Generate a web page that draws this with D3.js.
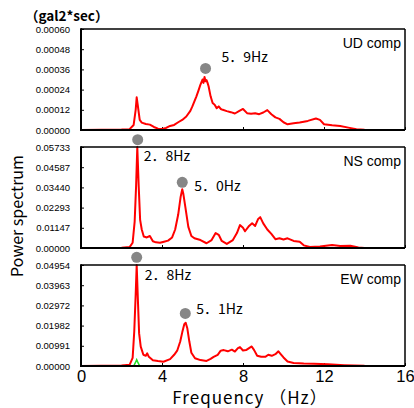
<!DOCTYPE html>
<html>
<head>
<meta charset="utf-8">
<script src="https://cdn.jsdelivr.net/npm/d3@7"></script>
<style>
  body { margin: 0; background: #fff; }
  svg { display: block; }
</style>
</head>
<body>
<div id="chart"></div>
<script>
// データ
var xTicks = [0, 4, 8, 12, 16];
var components = ["UD comp", "NS comp", "EW comp"];
var yMax = [0.00060, 0.05733, 0.04954];
var yTicksUD = [0, 0.00012, 0.00024, 0.00036, 0.00048, 0.00060];
var yTicksNS = [0, 0.01147, 0.02293, 0.03440, 0.04587, 0.05733];
var yTicksEW = [0, 0.00991, 0.01982, 0.02972, 0.03963, 0.04954];

var freqUD = [0, 1.0, 2.0, 2.4, 2.6, 2.7, 2.75, 2.8, 2.9, 3.0, 3.2, 3.4, 3.6, 3.8, 4.0, 4.2, 4.4, 4.6, 4.8, 5.0,
  5.2, 5.4, 5.5, 5.6, 5.7, 5.8, 5.9, 6.0, 6.05, 6.1, 6.15, 6.2, 6.25, 6.3, 6.4, 6.5, 6.6, 6.7, 6.8, 6.9,
  7.0, 7.2, 7.4, 7.6, 7.8, 8.0, 8.2, 8.4, 8.6, 8.8, 9.0, 9.2, 9.4, 9.6, 9.8, 10.0, 10.2, 10.5, 10.8,
  11.2, 11.6, 11.8, 12.0, 12.4, 12.8, 13.2, 13.6, 14.0, 16.0];
var powerUD = [0, 0.000002, 0.000003, 0.000005, 0.00003, 0.00012, 0.000194, 0.00015, 0.00006, 0.000044,
  0.000036, 0.000032, 0.000018, 0.000008, 0.000006, 0.000012, 0.000024, 0.00003, 0.000046, 0.00006,
  0.00008, 0.000114, 0.00014, 0.00017, 0.0002, 0.000234, 0.00027, 0.0003, 0.00028, 0.000315, 0.00029,
  0.000296, 0.00028, 0.00026, 0.0002, 0.00016, 0.00015, 0.00013, 0.00014, 0.000125,
  0.00012, 0.000112, 0.000106, 0.000098, 0.000112, 0.000125, 0.0001, 0.000096, 0.0001, 0.000094,
  0.000104, 0.000118, 0.000094, 0.000075, 0.000066, 0.000046, 0.000034, 0.00004, 0.000044,
  0.000054, 0.000068, 0.00006, 0.000034, 0.000028, 0.000024, 0.000014, 0.000004, 0.000001, 0];

var freqNS = [0, 2.0, 2.4, 2.55, 2.65, 2.72, 2.78, 2.85, 2.92, 3.0, 3.1, 3.25, 3.4, 3.55, 3.7, 3.9, 4.1,
  4.3, 4.5, 4.65, 4.8, 4.92, 5.0, 5.05, 5.15, 5.3, 5.45, 5.6, 5.9, 6.2, 6.45, 6.65, 6.8, 6.95, 7.2,
  7.5, 7.7, 7.85, 8.0, 8.1, 8.3, 8.45, 8.6, 8.75, 8.85, 9.0, 9.2, 9.4, 9.6, 9.8, 10.0, 10.2, 10.5,
  10.8, 11.0, 11.3, 11.8, 12.4, 12.8, 13.3, 13.7, 14.0, 16.0];
var powerNS = [0, 0.0002, 0.0005, 0.003, 0.015, 0.035, 0.0573, 0.035, 0.016, 0.0105, 0.0065, 0.006,
  0.0068, 0.0038, 0.0032, 0.003, 0.0036, 0.0042, 0.006, 0.0105, 0.019, 0.029, 0.0333, 0.031, 0.0235,
  0.012, 0.0068, 0.0055, 0.0045, 0.0027, 0.0045, 0.0085, 0.0075, 0.004, 0.0023, 0.0045, 0.0085, 0.013,
  0.0115, 0.0095, 0.0125, 0.014, 0.0125, 0.0165, 0.0175, 0.014, 0.0105, 0.008, 0.005, 0.0055, 0.0048,
  0.0055, 0.004, 0.0035, 0.0015, 0.0006, 0.0008, 0.0017, 0.0012, 0.0013, 0.0003, 0, 0];

var freqEW = [0, 2.0, 2.4, 2.55, 2.63, 2.7, 2.75, 2.8, 2.87, 2.95, 3.08, 3.2, 3.27, 3.35, 3.55, 3.8,
  4.07, 4.4, 4.6, 4.75, 4.9, 5.0, 5.1, 5.17, 5.25, 5.35, 5.45, 5.63, 5.9, 6.2, 6.4, 6.55, 6.75, 6.9,
  7.05, 7.25, 7.45, 7.6, 7.75, 7.85, 8.0, 8.15, 8.3, 8.43, 8.55, 8.7, 8.9, 9.1, 9.25, 9.42, 9.6, 9.75,
  9.85, 10.0, 10.2, 10.5, 11.0, 11.5, 12.2, 13.0, 14.0, 16.0];
var powerEW = [0, 0.0002, 0.0006, 0.004, 0.017, 0.035, 0.0495, 0.035, 0.016, 0.0095, 0.0055, 0.005,
  0.0062, 0.0045, 0.0028, 0.0024, 0.0021, 0.0034, 0.0055, 0.0075, 0.012, 0.0165, 0.0205, 0.0212,
  0.0185, 0.012, 0.0065, 0.0038, 0.0029, 0.0025, 0.0035, 0.0045, 0.0055, 0.0075, 0.0078, 0.0072,
  0.008, 0.0071, 0.0088, 0.0093, 0.0076, 0.0078, 0.0088, 0.0096, 0.0078, 0.005, 0.0045, 0.0045,
  0.0055, 0.005, 0.0058, 0.0072, 0.006, 0.0042, 0.0022, 0.0015, 0.0012, 0.0011, 0.0008, 0.0004,
  0.0001, 0];

// EW の緑の系列
var freqEWg = [2.0, 2.6, 2.68, 2.75, 2.82, 2.9, 3.1, 8.0];
var powerEWg = [0, 0, 0.0015, 0.0031, 0.0015, 0, 0, 0];

// ピーク（マーカー）
var peakFreqUD = [6.15], peakPowUD = [0.000366], peakTextUD = ["5．9Hz"];
var peakFreqNS = [2.8, 5.0], peakPowNS = [0.0615, 0.0373], peakTextNS = ["2．8Hz", "5．0Hz"];
var peakFreqEW = [2.75, 5.15], peakPowEW = [0.0533, 0.0258], peakTextEW = ["2．8Hz", "5．1Hz"];

// レイアウト
var width = 414, height = 408;
var left = 81, right = 405;
var panelTop = [29, 147, 265], panelH = 101;
var labelOffsets = [[[16, -6]], [[6, 21], [12, 9]], [[8, 23], [11, 1]]];

var svg = d3.select("#chart").append("svg")
  .attr("width", width)
  .attr("height", height);

var x = d3.scaleLinear().domain([0, 16]).range([left, right]);

var panels = [
  { f: freqUD, p: powerUD, ticks: yTicksUD, pf: peakFreqUD, pp: peakPowUD, pt: peakTextUD },
  { f: freqNS, p: powerNS, ticks: yTicksNS, pf: peakFreqNS, pp: peakPowNS, pt: peakTextNS },
  { f: freqEW, p: powerEW, ticks: yTicksEW, pf: peakFreqEW, pp: peakPowEW, pt: peakTextEW }
];

var cjk = "'Noto Sans CJK JP', 'Noto Sans', sans-serif";

panels.forEach(function(pn, i) {
  var top = panelTop[i], bottom = top + panelH;
  var y = d3.scaleLinear().domain([0, yMax[i]]).range([bottom, top]);
  var g = svg.append("g");

  // y軸
  var ya = g.append("g")
    .attr("transform", "translate(" + left + ",0)")
    .call(d3.axisLeft(y).tickValues(pn.ticks).tickSizeInner(-3).tickSizeOuter(0).tickPadding(11)
      .tickFormat(d3.format(".5f")));
  ya.select(".domain").remove();
  ya.selectAll("text")
    .attr("font-family", "'Liberation Sans', Arial, sans-serif")
    .attr("font-size", "9.5px")
    .attr("fill", "#000");
  ya.selectAll("line").attr("stroke", "#000");

  // x軸
  var xa = g.append("g")
    .attr("transform", "translate(0," + bottom + ")")
    .call(d3.axisBottom(x).tickValues(xTicks).tickSizeInner(-3).tickSizeOuter(0).tickPadding(4)
      .tickFormat(i == 2 ? d3.format("d") : ""));
  xa.select(".domain").remove();
  xa.selectAll("text")
    .attr("font-family", "'Liberation Sans', Arial, sans-serif")
    .attr("font-size", "16.5px")
    .attr("fill", "#000");
  xa.selectAll("line").attr("stroke", "#000");

  // 折れ線
  var line = d3.line()
    .x(function(d) { return x(d[0]); })
    .y(function(d) { return y(d[1]); });
  var pts = d3.zip(pn.f, pn.p);

  if (i == 2) {
    g.append("path")
      .datum(d3.zip(freqEWg, powerEWg))
      .attr("d", line)
      .attr("fill", "none")
      .attr("stroke", "#22dd22")
      .attr("stroke-width", 1.5);
  }
  g.append("path")
    .datum(pts)
    .attr("d", line)
    .attr("fill", "none")
    .attr("stroke", "#ff0000")
    .attr("stroke-width", 2)
    .attr("stroke-linejoin", "round");

  // 枠
  g.append("line").attr("x1", left).attr("x2", right).attr("y1", top).attr("y2", top)
    .attr("stroke", "#000").attr("stroke-width", 1.5);
  g.append("line").attr("x1", right).attr("x2", right).attr("y1", top).attr("y2", bottom)
    .attr("stroke", "#000").attr("stroke-width", 1.5);
  g.append("line").attr("x1", left).attr("x2", right).attr("y1", bottom).attr("y2", bottom)
    .attr("stroke", "#000").attr("stroke-width", 2);
  g.append("line").attr("x1", left).attr("x2", left).attr("y1", top - 0.75).attr("y2", bottom + 1)
    .attr("stroke", "#000").attr("stroke-width", 2);

  // 成分名
  g.append("text")
    .attr("x", 401)
    .attr("y", top + 19)
    .attr("text-anchor", "end")
    .attr("font-family", "'Liberation Sans Narrow', 'Liberation Sans', Arial, sans-serif")
    .attr("font-size", "14px")
    .text(components[i]);

  // ピーク
  pn.pf.forEach(function(f, k) {
    var cx = x(f), cy = y(pn.pp[k]);
    svg.append("circle")
      .attr("cx", cx)
      .attr("cy", cy)
      .attr("r", 5.5)
      .attr("fill", "#868686");
    svg.append("text")
      .attr("x", cx + labelOffsets[i][k][0])
      .attr("y", cy + labelOffsets[i][k][1])
      .attr("font-family", cjk)
      .attr("font-size", "14px")
      .attr("fill", "#000")
      .text(pn.pt[k]);
  });
});

// 単位
svg.append("text")
  .attr("x", 25)
  .attr("y", 21)
  .attr("font-family", cjk)
  .attr("font-size", "13.5px")
  .attr("font-weight", "bold")
  .text("（gal2*sec）");

// 軸タイトル
svg.append("text")
  .attr("x", 250)
  .attr("y", 404)
  .attr("text-anchor", "middle")
  .attr("font-family", cjk)
  .attr("font-size", "17px")
  .attr("letter-spacing", "1px")
  .text("Frequency （Hz）");

svg.append("text")
  .attr("transform", "translate(23,216) rotate(-90)")
  .attr("text-anchor", "middle")
  .attr("font-family", cjk)
  .attr("font-size", "16px")
  .text("Power spectrum");
</script>
</body>
</html>
